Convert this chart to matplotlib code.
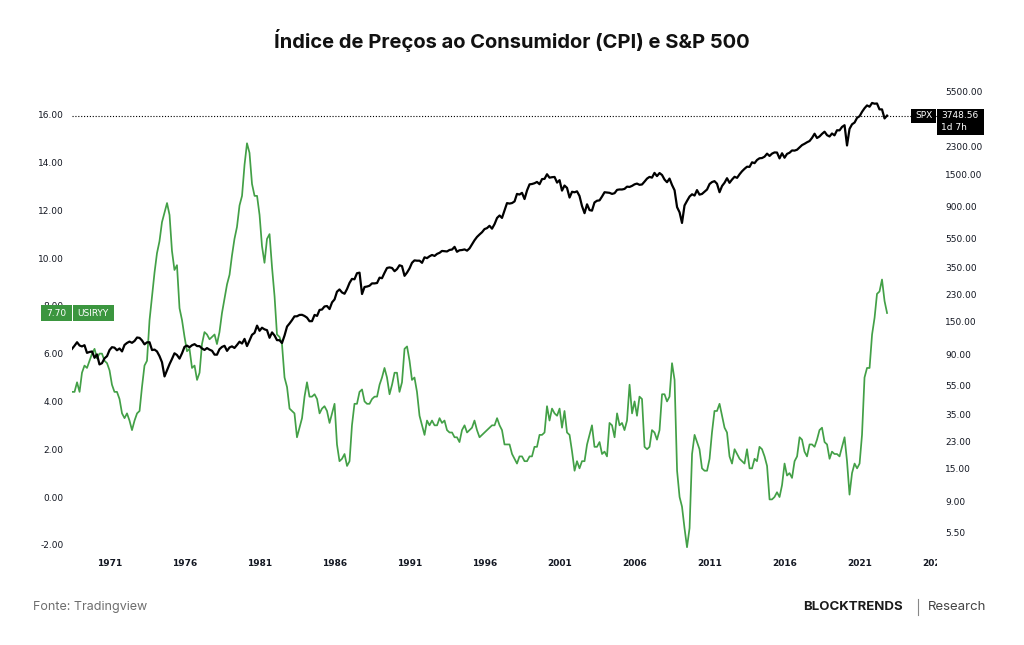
import matplotlib
matplotlib.use("Agg")
import matplotlib.pyplot as plt
import pandas as pd
from matplotlib.patches import Rectangle
from matplotlib.ticker import NullLocator
from matplotlib.transforms import Bbox, TransformedBbox

# CPI YoY (%), bi-monthly Jul 1968 -> Nov 2022 (Jan, Mar, May, Jul, Sep, Nov)
cpi_yoy = [
    4.4, 4.4, 4.8,                      # 1968
    4.4, 5.2, 5.5, 5.4, 5.7, 6.0,       # 1969
    6.2, 5.8, 6.0, 6.0, 5.7, 5.6,       # 1970
    5.3, 4.7, 4.4, 4.4, 4.1, 3.5,       # 1971
    3.3, 3.5, 3.2, 2.8, 3.2, 3.5,       # 1972
    3.6, 4.6, 5.5, 5.7, 7.4, 8.4,       # 1973
    9.4, 10.2, 10.7, 11.5, 11.9, 12.3,  # 1974
    11.8, 10.3, 9.5, 9.7, 7.9, 7.4,     # 1975
    6.7, 6.1, 6.2, 5.4, 5.5, 4.9,       # 1976
    5.2, 6.4, 6.9, 6.8, 6.6, 6.7,       # 1977
    6.8, 6.4, 6.9, 7.7, 8.3, 8.9,       # 1978
    9.3, 10.1, 10.8, 11.3, 12.2, 12.6,  # 1979
    13.9, 14.8, 14.4, 13.1, 12.6, 12.6, # 1980
    11.8, 10.5, 9.8, 10.8, 11.0, 9.6,   # 1981
    8.4, 6.8, 6.7, 6.4, 5.0, 4.6,       # 1982
    3.7, 3.6, 3.5, 2.5, 2.9, 3.3,       # 1983
    4.2, 4.8, 4.2, 4.2, 4.3, 4.1,       # 1984
    3.5, 3.7, 3.8, 3.6, 3.1, 3.5,       # 1985
    3.9, 2.2, 1.5, 1.6, 1.8, 1.3,       # 1986
    1.5, 3.0, 3.9, 3.9, 4.4, 4.5,       # 1987
    4.0, 3.9, 3.9, 4.1, 4.2, 4.2,       # 1988
    4.7, 5.0, 5.4, 5.0, 4.3, 4.7,       # 1989
    5.2, 5.2, 4.4, 4.8, 6.2, 6.3,       # 1990
    5.7, 4.9, 5.0, 4.4, 3.4, 3.0,       # 1991
    2.6, 3.2, 3.0, 3.2, 3.0, 3.0,       # 1992
    3.3, 3.1, 3.2, 2.8, 2.7, 2.7,       # 1993
    2.5, 2.5, 2.3, 2.8, 3.0, 2.7,       # 1994
    2.8, 2.9, 3.2, 2.8, 2.5, 2.6,       # 1995
    2.7, 2.8, 2.9, 3.0, 3.0, 3.3,       # 1996
    3.0, 2.8, 2.2, 2.2, 2.2, 1.8,       # 1997
    1.6, 1.4, 1.7, 1.7, 1.5, 1.5,       # 1998
    1.7, 1.7, 2.1, 2.1, 2.6, 2.6,       # 1999
    2.7, 3.8, 3.2, 3.7, 3.5, 3.4,       # 2000
    3.7, 2.9, 3.6, 2.7, 2.6, 1.9,       # 2001
    1.1, 1.5, 1.2, 1.5, 1.5, 2.2,       # 2002
    2.6, 3.0, 2.1, 2.1, 2.3, 1.8,       # 2003
    1.9, 1.7, 3.1, 3.0, 2.5, 3.5,       # 2004
    3.0, 3.1, 2.8, 3.2, 4.7, 3.5,       # 2005
    4.0, 3.4, 4.2, 4.1, 2.1, 2.0,       # 2006
    2.1, 2.8, 2.7, 2.4, 2.8, 4.3,       # 2007
    4.3, 4.0, 4.2, 5.6, 4.9, 1.1,       # 2008
    0.0, -0.4, -1.3, -2.1, -1.3, 1.8,   # 2009
    2.6, 2.3, 2.0, 1.2, 1.1, 1.1,       # 2010
    1.6, 2.7, 3.6, 3.6, 3.9, 3.4,       # 2011
    2.9, 2.7, 1.7, 1.4, 2.0, 1.8,       # 2012
    1.6, 1.5, 1.4, 2.0, 1.2, 1.2,       # 2013
    1.6, 1.5, 2.1, 2.0, 1.7, 1.3,       # 2014
    -0.1, -0.1, 0.0, 0.2, 0.0, 0.5,     # 2015
    1.4, 0.9, 1.0, 0.8, 1.5, 1.7,       # 2016
    2.5, 2.4, 1.9, 1.7, 2.2, 2.2,       # 2017
    2.1, 2.4, 2.8, 2.9, 2.3, 2.2,       # 2018
    1.6, 1.9, 1.8, 1.8, 1.7, 2.1,       # 2019
    2.5, 1.5, 0.1, 1.0, 1.4, 1.2,       # 2020
    1.4, 2.6, 5.0, 5.4, 5.4, 6.8,       # 2021
    7.5, 8.5, 8.6, 9.1, 8.2, 7.7,       # 2022
]

# S&P 500 level, same dates
spx = [
    97.7, 102.7, 108.4,                          # 1968
    103.0, 101.5, 103.5, 91.8, 93.1, 93.8,       # 1969
    85.0, 89.6, 76.6, 78.1, 84.3, 87.2,          # 1970
    95.9, 100.3, 99.6, 95.6, 98.3, 93.9,         # 1971
    103.9, 107.2, 109.5, 107.4, 110.6, 116.7,    # 1972
    116.0, 111.5, 104.9, 108.2, 108.4, 95.9,     # 1973
    96.6, 93.9, 87.3, 79.3, 63.5, 70.0,          # 1974
    77.0, 83.4, 91.2, 88.8, 83.9, 91.2,          # 1975
    100.9, 102.8, 100.2, 103.4, 105.2, 102.1,    # 1976
    102.0, 98.4, 96.1, 98.9, 96.5, 94.8,         # 1977
    89.3, 89.2, 97.2, 100.7, 102.5, 94.7,        # 1978
    99.9, 101.6, 99.1, 103.8, 109.3, 106.2,      # 1979
    114.2, 102.1, 111.2, 121.7, 125.5, 140.5,    # 1980
    129.6, 136.0, 132.6, 130.9, 116.2, 126.4,    # 1981
    120.4, 112.0, 111.9, 107.1, 120.4, 138.5,    # 1982
    145.3, 153.0, 162.4, 162.6, 166.1, 166.4,    # 1983
    163.4, 159.2, 150.6, 150.7, 166.1, 163.6,    # 1984
    179.6, 180.7, 189.6, 190.9, 182.1, 202.2,    # 1985
    211.8, 238.9, 247.4, 236.1, 231.3, 249.2,    # 1986
    274.1, 291.7, 290.1, 318.7, 321.8, 230.3,    # 1987
    257.1, 258.9, 262.2, 272.0, 271.9, 273.7,    # 1988
    297.5, 294.9, 320.5, 346.1, 349.2, 346.0,    # 1989
    329.1, 339.9, 361.2, 356.2, 306.1, 322.2,    # 1990
    343.9, 375.2, 389.8, 387.8, 387.9, 375.2,    # 1991
    408.8, 403.7, 415.4, 424.2, 417.8, 431.4,    # 1992
    438.8, 451.7, 450.2, 448.1, 458.9, 461.8,    # 1993
    481.6, 445.8, 456.5, 458.3, 462.7, 453.7,    # 1994
    470.4, 500.7, 533.4, 562.1, 584.4, 605.4,    # 1995
    636.0, 645.5, 669.1, 640.0, 687.3, 757.0,    # 1996
    786.2, 757.1, 848.3, 954.3, 947.3, 955.4,    # 1997
    980.3, 1101.8, 1090.8, 1120.7, 1017.0, 1163.6,  # 1998
    1279.6, 1286.4, 1301.8, 1328.7, 1282.7, 1388.9, # 1999
    1394.5, 1498.6, 1420.6, 1430.8, 1436.5, 1315.2, # 2000
    1366.0, 1160.3, 1255.8, 1211.2, 1040.9, 1139.5, # 2001
    1130.2, 1147.4, 1067.1, 911.6, 815.3, 936.3,    # 2002
    855.7, 848.2, 963.6, 990.3, 996.0, 1058.2,      # 2003
    1131.1, 1126.2, 1120.7, 1101.7, 1114.6, 1173.8, # 2004
    1181.3, 1180.6, 1191.5, 1234.2, 1228.8, 1249.5, # 2005
    1280.1, 1294.9, 1270.1, 1276.7, 1335.9, 1400.6, # 2006
    1438.2, 1420.9, 1530.6, 1455.3, 1526.8, 1481.1, # 2007
    1378.6, 1322.7, 1400.4, 1267.4, 1166.4, 896.2,  # 2008
    825.9, 700.0, 919.1, 987.5, 1057.1, 1095.6,     # 2009
    1073.9, 1169.4, 1089.4, 1101.6, 1141.2, 1180.6, # 2010
    1286.1, 1325.8, 1345.2, 1292.3, 1131.4, 1246.9, # 2011
    1312.4, 1408.5, 1310.3, 1379.3, 1440.7, 1416.2, # 2012
    1498.1, 1569.2, 1630.7, 1685.7, 1681.6, 1805.8, # 2013
    1782.6, 1872.3, 1923.6, 1930.7, 1972.3, 2067.6, # 2014
    1995.0, 2067.9, 2107.4, 2103.8, 1920.0, 2080.4, # 2015
    1940.2, 2059.7, 2097.0, 2173.6, 2168.3, 2198.8, # 2016
    2278.9, 2362.7, 2411.8, 2470.3, 2519.4, 2647.6, # 2017
    2823.8, 2640.9, 2705.3, 2816.3, 2914.0, 2760.2, # 2018
    2704.1, 2834.4, 2752.1, 2980.4, 2976.7, 3141.0, # 2019
    3225.5, 2350.0, 3044.3, 3271.1, 3363.0, 3621.6, # 2020
    3714.2, 3972.9, 4204.1, 4395.3, 4307.5, 4567.0, # 2021
    4515.6, 4530.4, 4132.2, 4130.3, 3585.6, 3748.56, # 2022
]

dates = pd.date_range("1968-07-01", periods=len(cpi_yoy), freq="2MS")

left_ticks = [-2, 0, 2, 4, 6, 8, 10, 12, 14, 16]
right_ticks = [5.5, 9, 15, 23, 35, 55, 90, 150, 230, 350, 550, 900, 1500, 2300, 5500]
year_ticks = [1971, 1976, 1981, 1986, 1991, 1996, 2001, 2006, 2011, 2016, 2021, 2026]

GREEN = "#43a047"
TXT = "#131722"

W, H = 1024, 645
fig = plt.figure(figsize=(W / 100, H / 100), dpi=100)
fig.patch.set_facecolor("white")


def fx(x):
    return x / W


def fy(y):
    return 1 - y / H


ax = fig.add_axes([fx(72), fy(552), fx(937) - fx(72), fy(68) - fy(552)])
ax2 = ax.twinx()

ax.plot(dates, cpi_yoy, color=GREEN, lw=1.25, zorder=2)
ax2.plot(dates, spx, color="black", lw=1.6, zorder=3)
ax2.axhline(spx[-1], color="black", lw=0.8, ls=(0, (1, 1.6)), zorder=1)

ax.set_xlim(pd.Timestamp("1968-07-01"), pd.Timestamp("2026-03-01"))
ax.set_ylim(-2.30, 17.95)
ax2.set_yscale("log")
ax2.set_ylim(4.08, 7890)

for a in (ax, ax2):
    for s in a.spines.values():
        s.set_visible(False)

ax.set_yticks(left_ticks)
ax.set_yticklabels([f"{v:.2f}" for v in left_ticks])
ax.tick_params(axis="y", length=0, pad=6, labelsize=6.5, labelcolor=TXT)

ax2.set_yticks(right_ticks)
ax2.set_yticklabels([f"{v:.2f}" for v in right_ticks])
ax2.yaxis.set_minor_locator(NullLocator())
ax2.tick_params(axis="y", which="both", length=0, pad=6, labelsize=6.5, labelcolor=TXT)

ax.set_xticks([pd.Timestamp(f"{y}-01-01") for y in year_ticks])
ax.set_xticklabels([str(y) for y in year_ticks], fontweight="bold")
ax.tick_params(axis="x", length=0, pad=5, labelsize=6.5, labelcolor=TXT)
clip = TransformedBbox(Bbox([[-0.1, -0.2], [1.0, 1.0]]), ax.transAxes)
for lbl in ax.get_xticklabels():
    lbl.set_clip_box(clip)
    lbl.set_clip_on(True)


def box(x0, y0, x1, y1, color):
    fig.add_artist(Rectangle((fx(x0), fy(y1)), fx(x1) - fx(x0), fy(y0) - fy(y1),
                             transform=fig.transFigure, facecolor=color,
                             edgecolor="none", zorder=10))


# last value labels
box(911, 109, 936, 123, "black")
box(937, 109, 984, 135, "black")
fig.text(fx(923.5), fy(116), "SPX", color="white", fontsize=6.5,
         ha="center", va="center", zorder=11)
fig.text(fx(941), fy(116), f"{spx[-1]:.2f}", color="white", fontsize=6.5,
         ha="left", va="center", zorder=11)
fig.text(fx(941), fy(128), "1d 7h", color="white", fontsize=6.5,
         ha="left", va="center", zorder=11)

box(41, 305, 71.5, 321, "#3b963f")
box(72.5, 305, 114, 321, "#3b963f")
fig.text(fx(56.3), fy(313), f"{cpi_yoy[-1]:.2f}", color="white", fontsize=6.5,
         ha="center", va="center", zorder=11)
fig.text(fx(93.3), fy(313), "USIRYY", color="white", fontsize=6.5,
         ha="center", va="center", zorder=11)

fig.text(0.5, fy(40), "Índice de Preços ao Consumidor (CPI) e S&P 500",
         ha="center", va="center", fontsize=14.5, fontweight="bold",
         family="Inter", color="#111111")

fig.text(fx(33), fy(607), "Fonte: Tradingview", ha="left", va="center",
         fontsize=9, family="Inter", color="#6e6e6e")
fig.text(fx(803), fy(607), "BLOCKTRENDS", ha="left", va="center",
         fontsize=9.5, family="Inter", fontweight="bold", color="#1b1b1b")
fig.add_artist(plt.Line2D([fx(918), fx(918)], [fy(599), fy(615)],
                          transform=fig.transFigure, color="#888888", lw=0.8))
fig.text(fx(928), fy(607), "Research", ha="left", va="center",
         fontsize=9.5, family="Inter", color="#444444")

fig.savefig("out.png", dpi=100, facecolor="white")
